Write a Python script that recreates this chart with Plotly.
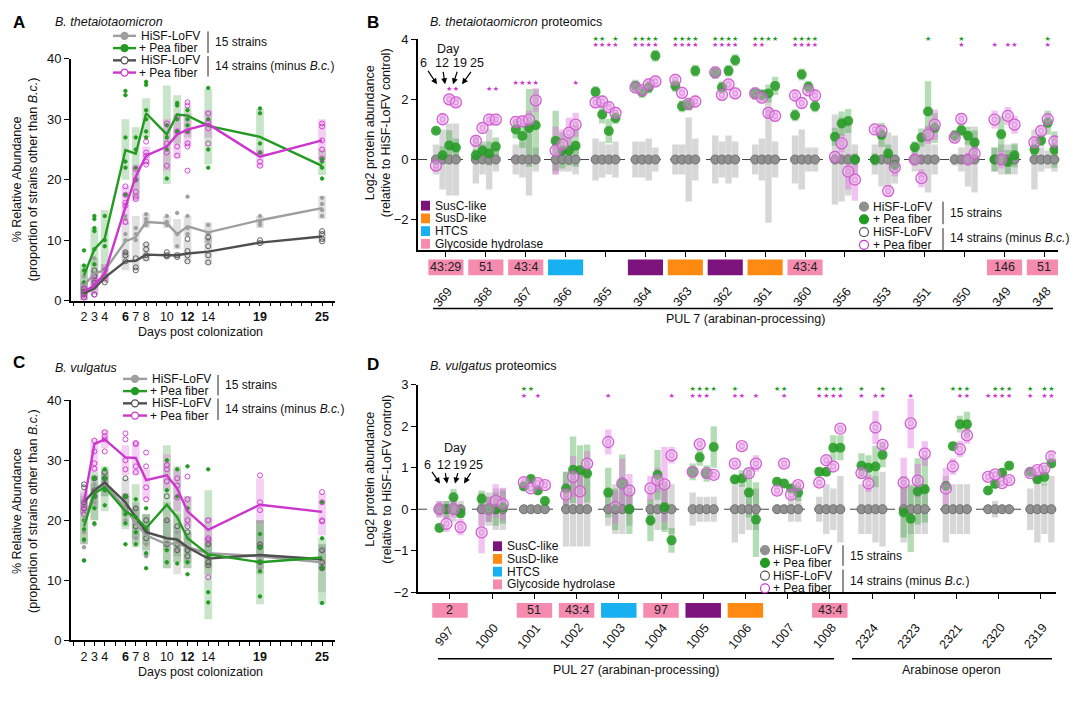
import plotly.graph_objects as go

W, H = 1080, 701
FONT = "Liberation Sans, Arial, Helvetica, sans-serif"
STAR_FONT = "DejaVu Sans"
LEG_SIZE = 11.5

# ---------------- Panels A and C: relative abundance over time ----------------
days = [2, 3, 4, 6, 7, 8, 10, 11, 12, 14, 19, 25]
day_tick_vals = list(range(1, 27))
day_labeled = [2, 3, 4, 6, 7, 8, 10, 12, 14, 19, 25]
day_labels = ["2", "3", "4", "<b>6</b>", "7", "8", "10", "<b>12</b>", "14", "<b>19</b>", "<b>25</b>"]

# Panel A (B. thetaiotaomicron)
A_hisf15_mean = [2.5, 4.5, 5.0, 9.8, 10.5, 13.0, 12.8, 11.0, 12.3, 11.3, 13.3, 15.3]
A_hisf15_lo = [0.5, 2, 3, 7, 7.5, 12, 12, 8.5, 10.5, 9.5, 12, 13.5]
A_hisf15_hi = [5, 7, 6, 13, 14, 14.5, 14, 13.5, 14, 13, 14, 17.3]
A_hisf15_pts = [[4, 3, 2, 1], [7, 4.5, 3], [5, 4], [14, 13.5, 11, 10, 8], [12, 11, 10], [14.3, 13.5, 13, 12.5],
                [14, 13, 12.5], [14.5, 11, 9], [17.2, 14, 12, 11], [12.5, 11, 10], [14, 13, 12.5], [17, 16, 15, 14]]

A_pea15_mean = [4.2, 8.5, 10.3, 24.9, 24.3, 31.0, 27.5, 30.8, 30.6, 28.9, 27.1, 22.3]
A_pea15_lo = [1, 4, 5, 20, 17, 27, 19.3, 26, 27, 22.5, 24, 20.8]
A_pea15_hi = [6, 12, 15, 30, 28.7, 33.5, 35.6, 34, 32, 35, 31.7, 25]
A_pea15_pts = [[8.3, 5.8, 5, 3, 1.5], [14, 13.5, 12, 11.5, 8.5, 6], [14, 10, 9, 5], [34.7, 34, 27, 23, 22, 17.5],
               [27, 25, 22, 20], [36.2, 35.7, 31.5, 30, 28, 27], [29, 27, 25, 20.2], [32.7, 32.3, 30, 28],
               [31.5, 30, 29, 28], [35.2, 30, 25, 22], [31.8, 31, 26, 24.5], [23.4, 23, 22, 20.2]]

A_hisf14_mean = [1.2, 2.0, 3.8, 6.5, 6.6, 7.6, 7.5, 7.5, 7.8, 8.1, 9.6, 10.6]
A_hisf14_lo = [0, 1, 3, 5, 5, 6.5, 7, 7, 6.3, 6, 9.2, 9.7]
A_hisf14_hi = [3, 5, 4.5, 8, 7.5, 9.5, 8, 8, 10, 10.5, 10, 11.5]
A_hisf14_pts = [[1, 1.5, 0.5, 2], [1, 3, 4, 5], [3, 4], [6.5, 7.5, 8], [5, 5.5, 7], [9.3, 8.5, 7.5, 7],
                [8, 7.5, 7.3], [7.5, 7.2], [10.2, 8.2, 7.5, 6.5], [10.5, 9, 7.5, 6.3], [10, 9.5], [11.5, 11, 10.2, 9.8]]

A_pea14_mean = [1.5, 2.5, 4.5, 15.5, 20.5, 24.0, 25.5, 27.5, 28.3, 29.2, 23.8, 26.5]
A_pea14_lo = [0, 1, 3, 12.5, 16.5, 22.5, 21.5, 23.5, 25.5, 27, 22, 23.5]
A_pea14_hi = [3, 4.5, 6, 19, 22.5, 25.5, 30, 30.5, 31, 31.5, 25, 30]
A_pea14_pts = [[1, 2, 0.5], [1, 2.5, 3.5], [4, 5], [18.9, 17.5, 16.2, 15.7, 13], [21.8, 20, 18, 17.2, 16.8],
               [26.3, 24.5, 24, 23, 22.5], [29.3, 26, 24.5, 22.3], [30.5, 28, 25.5, 24],
               [32.8, 32.3, 28, 26, 25.5, 21.5], [31, 29.5, 28.5, 26], [24.2, 23, 22.3], [29.3, 28.8, 26.5, 25, 23.5]]
A_sig_day25_value = 26.0

# Panel C (B. vulgatus)
C_hisf15_mean = [19.5, 25, 26, 22, 19.5, 17.5, 16, 16.2, 15.5, 14.5, 14, 13]
C_hisf15_lo = [16, 20, 24, 19, 16, 14, 12, 11, 12, 12, 11, 8]
C_hisf15_hi = [22, 26, 28, 24.5, 22, 21, 20, 19, 18, 17, 20, 16]
C_hisf15_pts = [[18, 16.5, 15.5, 13.3], [26, 23, 19.3], [27, 25], [24, 21, 20], [22, 18, 17], [18, 16, 14],
                [20, 16, 13], [18, 15], [17, 15, 13], [16, 14, 12.5], [16, 14, 12], [15, 13, 12]]

C_pea15_mean = [19, 24.5, 25.5, 21.5, 20.5, 18.7, 22.6, 20.5, 17, 14.3, 13, 13.8]
C_pea15_lo = [16, 20, 21.5, 18.5, 15.5, 15, 12, 13, 12, 3.5, 6, 6]
C_pea15_hi = [24, 28, 29, 24, 26, 21, 32.5, 29, 24, 25, 20, 17]
C_pea15_pts = [[20, 18.5, 16.8, 13.3], [27, 24, 22, 19.5], [28.5, 27, 25, 22.5], [24, 21, 19.5, 16],
               [23.5, 20.5, 18, 16], [22, 18.5, 14.5, 12], [30, 25, 15, 13], [28.5, 24, 12.8], [29, 22, 13, 11],
               [28.5, 14, 8, 6.3], [17.7, 15.5, 13, 11.5, 7.3], [23, 17, 12, 6.2]]

C_hisf14_mean = [23, 25, 26.3, 23, 20.5, 18, 17, 16.8, 15.5, 13.6, 14.2, 13.5]
C_hisf14_lo = [21, 22, 24, 21, 17, 16, 15, 14, 13, 11, 12, 12]
C_hisf14_hi = [25, 27.5, 28.5, 27, 23, 21, 23, 21, 18, 16, 20, 16]
C_hisf14_pts = [[26, 25.5, 23, 22], [27, 25, 24], [28, 27, 26], [27, 24, 22], [22, 20, 19], [20, 18, 17],
                [24, 20, 16], [19, 16, 15], [18, 15, 14], [16, 13, 12.5], [16, 15.5, 13], [15, 13, 12]]

C_pea14_mean = [23, 32.7, 33.5, 30.5, 30.4, 26.7, 27.5, 25.3, 21.5, 18.4, 22.6, 21.4]
C_pea14_lo = [21, 28, 32, 27.5, 27.5, 23.5, 25, 21.5, 19, 16, 19.5, 17.5]
C_pea14_hi = [24.5, 33.5, 35, 32.5, 33, 28.5, 31, 28.5, 24, 20.5, 27, 24.5]
C_pea14_pts = [[22.5, 22, 21], [33.3, 31.5, 29.5, 28.6], [34.7, 34, 33.5, 31.5], [34.5, 33.5, 30, 28.5],
               [32.9, 32.7, 29, 28], [31.3, 29, 25.5, 23.5], [29.2, 28.5, 26.5], [27, 25.8, 23.8],
               [27.3, 23.5, 20, 19], [20, 17, 16.7, 10.5], [27.5, 23, 21.7], [24.7, 23, 20, 19.8]]
C_sig_day25_value = 21.0

# ---------------- Panels B and D: proteomics (log2 vs HiSF-LoFV control) ----------------
prot_days = [6, 12, 19, 25]
CONTROL_LOG2 = 0.0  # control relative to itself

B_genes = ["369", "368", "367", "366", "365", "364", "363", "362", "361", "360", "356", "353", "351", "350", "349", "348"]
B_pea15 = [[0.96, 0.14, 0.47, 0.40], [0.14, 0.30, 0.20, 0.43], [1.00, 0.78, 1.05, 1.14], [0.62, 0.30, 0.30, 0.46],
           [2.25, 1.50, 0.95, 1.38], [2.45, 2.25, 2.40, 3.45], [2.45, 1.77, 1.82, 2.95], [2.88, 2.40, 2.95, 3.30],
           [2.20, 2.15, 2.20, 2.45], [1.47, 2.83, 2.42, 1.77], [0.76, 1.20, 1.28, 0.00], [0.00, 0.82, 0.20, -0.18],
           [0.41, 0.73, 1.60, 1.05], [0.79, 0.97, 0.79, 0.57], [0.00, 0.84, -0.08, 0.14], [0.33, 0.63, 1.22, 0.33]]
B_pea14 = [[-0.20, 1.34, 2.00, 1.90], [0.62, 1.05, 1.33, 1.33], [1.25, 1.27, 1.33, 1.97], [0.30, 0.50, 0.89, 1.16],
           [1.90, 1.93, 1.74, 1.55], [2.40, 2.30, 2.50, 2.60], [2.65, 2.22, 1.85, 1.93], [2.90, 2.15, 2.50, 2.20],
           [2.20, 2.06, 1.55, 1.45], [2.13, 1.88, 2.30, 2.13], [0.09, 0.54, -0.40, -0.67], [1.00, 0.95, -1.05, -0.26],
           [0.00, -0.62, 0.82, 1.16], [0.73, 1.35, 0.00, 0.20], [1.33, 0.00, 1.45, 1.16], [0.57, 0.95, 1.34, 0.60]]
B_err_ctrl = [[0.5, 1.0, 1.2, 1.2], [0.8, 0.5, 1.0, 0.4], [0.5, 0.6, 1.2, 0.4], [0.5, 0.4, 0.4, 0.5],
              [0.7, 0.6, 0.5, 0.6], [0.6, 0.6, 0.7, 0.4], [0.5, 0.5, 1.4, 0.7], [0.8, 0.6, 0.8, 0.6],
              [0.5, 0.7, 2.1, 0.6], [0.8, 1.0, 0.4, 0.4], [1.5, 1.4, 1.2, 0.5], [0.5, 0.9, 0.9, 0.8],
              [0.4, 0.6, 1.1, 0.5], [0.2, 0.4, 0.9, 1.1], [0.4, 0.5, 0.5, 0.5], [1.0, 0.4, 0.3, 0.4]]
B_err15 = [[0.1, 0.3, 0.5, 0.3], [0.2, 0.3, 0.4, 0.3], [0.3, 0.4, 1.3, 1.2], [1.0, 0.6, 0.5, 0.7],
           [0.2, 0.3, 0.4, 0.2], [0.2, 0.2, 0.2, 0.2], [0.2, 0.2, 0.2, 0.2], [0.2, 0.2, 0.2, 0.2],
           [0.2, 0.2, 0.3, 0.3], [0.2, 0.2, 0.2, 0.2], [0.3, 0.4, 0.4, 0.2], [0.2, 0.4, 0.3, 0.2],
           [0.2, 0.3, 1.0, 0.5], [0.2, 0.2, 0.3, 0.4], [0.4, 0.6, 0.4, 0.4], [0.2, 0.2, 0.4, 0.6]]
B_err14 = [[0.2, 0.2, 0.2, 0.2], [0.2, 0.2, 0.2, 0.2], [0.2, 0.2, 0.3, 0.4], [0.8, 0.5, 0.5, 0.4],
           [0.2, 0.2, 0.2, 0.2], [0.2, 0.2, 0.2, 0.2], [0.2, 0.2, 0.2, 0.2], [0.2, 0.2, 0.2, 0.2],
           [0.2, 0.2, 0.2, 0.2], [0.2, 0.2, 0.2, 0.2], [0.2, 0.3, 0.6, 0.7], [0.2, 0.2, 0.2, 0.3],
           [0.2, 0.3, 0.3, 0.5], [0.2, 0.2, 0.2, 0.3], [0.3, 0.3, 0.3, 0.3], [0.2, 0.2, 0.2, 0.2]]
B_sig15 = ["0000", "0000", "0000", "0000", "1101", "1111", "1111", "1111", "1111", "1111", "0000", "0000", "0010", "0100", "0000", "0010"]
B_sig14 = ["0011", "0011", "1111", "0001", "1111", "1111", "1111", "1111", "1100", "1111", "0000", "0000", "0000", "0100", "1011", "0010"]
B_family = ["GH", "GH", "GH", "HTCS", "", "SusC", "SusD", "SusC", "SusD", "GH", "", "", "", "", "GH", "GH"]
B_family_text = ["43:29", "51", "43:4", "", "", "", "", "", "", "43:4", "", "", "", "", "146", "51"]

D_genes = ["997", "1000", "1001", "1002", "1003", "1004", "1005", "1006", "1007", "1008", "2324", "2323", "2321", "2320", "2319"]
D_pea15 = [[-0.45, 0.0, 0.29, -0.10], [0.25, 0.0, 0.0, 0.05], [0.55, 0.73, 0.45, 0.20], [0.50, 0.95, 0.94, 0.86],
           [0.40, 0.0, 0.62, 0.0], [-0.27, 0.83, 0.05, -0.75], [0.90, 1.25, 0.86, 1.50], [0.72, 0.74, 0.40, -0.25],
           [0.66, 0.62, 0.50, 0.40], [0.90, 0.90, 1.48, 1.48], [1.05, 1.00, 1.03, 1.31], [-0.08, -0.23, 0.43, 0.48],
           [0.56, 1.52, 2.05, 2.05], [0.45, 0.61, 0.88, 1.05], [0.90, 0.72, 0.78, 1.10]]
D_pea14 = [[0.0, -0.35, 0.0, -0.43], [-0.56, 0.0, 0.20, 0.12], [0.65, 0.50, 0.63, 0.58], [0.35, 0.78, 0.43, 1.10],
           [1.62, 0.05, 0.62, 0.45], [0.50, 0.70, 0.60, 1.30], [0.90, 1.57, 0.87, 0.83], [1.10, 1.52, 0.87, 1.10],
           [0.45, 1.10, 0.35, 0.58], [0.64, 1.18, 1.03, 1.94], [0.87, 0.62, 1.97, 1.55], [0.64, 2.07, 0.69, 1.34],
           [0.50, 1.03, 1.45, 1.78], [0.78, 0.84, 0.63, 0.70], [0.87, 0.94, 0.98, 1.27]]
D_err_ctrl = [[0.2, 0.2, 0.3, 0.2], [0.4, 0.4, 0.5, 0.5], [0.1, 0.1, 0.1, 0.1], [0.9, 0.9, 0.9, 0.9],
              [0.4, 0.6, 0.6, 0.4], [0.4, 0.5, 0.5, 0.6], [0.4, 0.3, 0.3, 0.3], [0.8, 0.6, 0.5, 0.5],
              [0.1, 0.1, 0.3, 0.3], [0.3, 0.6, 0.5, 0.8], [0.6, 0.6, 0.8, 0.9], [0.8, 0.6, 0.6, 0.6],
              [0.8, 0.6, 0.6, 0.6], [0.1, 0.2, 0.1, 0.1], [0.5, 0.8, 0.6, 0.8]]
D_err15 = [[0.1, 0.2, 0.2, 0.1], [0.2, 0.3, 0.4, 0.4], [0.1, 0.1, 0.1, 0.1], [0.4, 0.8, 0.6, 0.7],
           [0.6, 0.5, 0.7, 0.6], [0.5, 0.6, 0.6, 0.3], [0.2, 0.2, 0.2, 0.5], [0.1, 0.2, 0.6, 0.9],
           [0.1, 0.1, 0.1, 0.2], [0.1, 0.1, 0.3, 0.3], [0.3, 0.3, 0.5, 0.3], [0.6, 0.8, 0.8, 0.8],
           [0.1, 0.1, 0.2, 0.3], [0.1, 0.1, 0.1, 0.1], [0.1, 0.1, 0.2, 0.1]]
D_err14 = [[0.2, 0.2, 0.2, 0.2], [0.5, 0.3, 0.4, 0.4], [0.1, 0.1, 0.1, 0.1], [0.3, 0.5, 0.4, 0.3],
           [0.3, 0.4, 0.6, 0.4], [0.3, 0.3, 0.9, 0.2], [0.1, 0.1, 0.1, 0.1], [0.1, 0.1, 0.1, 0.2],
           [0.1, 0.1, 0.1, 0.1], [0.1, 0.1, 0.1, 0.1], [0.1, 0.2, 0.4, 0.1], [0.6, 0.6, 0.4, 0.3],
           [0.5, 0.2, 0.2, 0.2], [0.1, 0.1, 0.1, 0.1], [0.1, 0.1, 0.1, 0.1]]
D_sig15 = ["0000", "0000", "1100", "0000", "0000", "0000", "1111", "1000", "1100", "1111", "1001", "0000", "0111", "0111", "1011"]
D_sig14 = ["0000", "0000", "1010", "0000", "1000", "0001", "1110", "1101", "0100", "1111", "1011", "0100", "0011", "1111", "1011"]
D_family = ["GH", "", "GH", "GH", "HTCS", "GH", "SusC", "SusD", "", "GH", "", "", "", "", ""]
D_family_text = ["2", "", "51", "43:4", "", "97", "", "", "", "43:4", "", "", "", "", ""]

# ---------------- styling ----------------
GREEN = "#239b23"
MAGENTA = "#cc36cc"
LGRAY = "#9e9e9e"
DGRAY = "#4f4f4f"
FAMILY_COLORS = {"SusC": "#7d137d", "SusD": "#ff8a12", "HTCS": "#17b1f2", "GH": "#f58cb0"}
DAY_OFFSETS = [-0.25, -0.083, 0.083, 0.25]


def X(p):
    return p / W


def Y(p):
    return 1 - p / H


fig = go.Figure()
shapes = []
annotations = []


def txt(x, y, s, size=12.5, xanchor="left", color="#111", angle=0, family=FONT):
    annotations.append(dict(x=X(x), y=Y(y), xref="paper", yref="paper", text=s, showarrow=False,
                            xanchor=xanchor, yanchor="middle", textangle=angle,
                            font=dict(family=family, size=size, color=color)))


def pline(x0, y0, x1, y1, color="#000", w=1.5, dash="solid"):
    shapes.append(dict(type="line", xref="paper", yref="paper", x0=X(x0), x1=X(x1), y0=Y(y0), y1=Y(y1),
                       line=dict(color=color, width=w, dash=dash)))


def circ(xc, yc, r, fill, line, lw=1.2):
    shapes.append(dict(type="circle", xref="paper", yref="paper", xsizemode="pixel", ysizemode="pixel",
                       xanchor=X(xc), yanchor=Y(yc), x0=-r, x1=r, y0=-r, y1=r,
                       fillcolor=fill, line=dict(color=line, width=lw)))


def prect(x0, y0, x1, y1, color):
    shapes.append(dict(type="rect", xref="paper", yref="paper", x0=X(x0), x1=X(x1), y0=Y(y1), y1=Y(y0),
                       fillcolor=color, line=dict(width=0)))


# ---------- time-course panels ----------
def time_panel(xa, ya, series):
    for mean, lo, hi, pts, line_col, band_col, sym, psize in series:
        fig.add_trace(go.Bar(x=days, y=[h - l for l, h in zip(lo, hi)], base=lo, width=0.75,
                             marker=dict(color=band_col, line=dict(width=0)),
                             xaxis=xa, yaxis=ya, showlegend=False, hoverinfo="skip"))
    for mean, lo, hi, pts, line_col, band_col, sym, psize in series:
        xs = [d for d, p in zip(days, pts) for _ in p]
        ys = [v for p in pts for v in p]
        fig.add_trace(go.Scatter(x=xs, y=ys, mode="markers",
                                 marker=dict(symbol=sym, size=psize, color=line_col, line=dict(width=0.9, color=line_col)),
                                 xaxis=xa, yaxis=ya, showlegend=False, hoverinfo="skip"))
    for mean, lo, hi, pts, line_col, band_col, sym, psize in series:
        fig.add_trace(go.Scatter(x=days, y=mean, mode="lines", line=dict(color=line_col, width=2.4),
                                 xaxis=xa, yaxis=ya, showlegend=False, hoverinfo="skip"))


time_panel("x", "y", [
    (A_hisf15_mean, A_hisf15_lo, A_hisf15_hi, A_hisf15_pts, LGRAY, "rgba(170,170,170,0.35)", "circle", 3.5),
    (A_hisf14_mean, A_hisf14_lo, A_hisf14_hi, A_hisf14_pts, DGRAY, "rgba(120,120,120,0.25)", "circle-open", 5),
    (A_pea15_mean, A_pea15_lo, A_pea15_hi, A_pea15_pts, GREEN, "rgba(60,160,60,0.28)", "circle", 3.5),
    (A_pea14_mean, A_pea14_lo, A_pea14_hi, A_pea14_pts, MAGENTA, "rgba(220,100,220,0.3)", "circle-open", 5),
])
time_panel("x3", "y3", [
    (C_hisf15_mean, C_hisf15_lo, C_hisf15_hi, C_hisf15_pts, LGRAY, "rgba(170,170,170,0.35)", "circle", 3.5),
    (C_hisf14_mean, C_hisf14_lo, C_hisf14_hi, C_hisf14_pts, DGRAY, "rgba(120,120,120,0.25)", "circle-open", 5),
    (C_pea15_mean, C_pea15_lo, C_pea15_hi, C_pea15_pts, GREEN, "rgba(60,160,60,0.28)", "circle", 3.5),
    (C_pea14_mean, C_pea14_lo, C_pea14_hi, C_pea14_pts, MAGENTA, "rgba(220,100,220,0.3)", "circle-open", 5),
])

for xr, yr, val in [("x", "y", A_sig_day25_value), ("x3", "y3", C_sig_day25_value)]:
    annotations.append(dict(x=26.75, y=val, xref=xr, yref=yr, text="★", showarrow=False,
                            xanchor="center", yanchor="middle",
                            font=dict(family=STAR_FONT, size=7, color=MAGENTA)))


# ---------- proteomics panels ----------
def prot_panel(xa, ya, genes, pea15, pea14, err_ctrl, err15, err14, sig15, sig14,
               star15_y, star14_y, bar_w):
    n = len(genes)
    xs = [i + o for i in range(n) for o in DAY_OFFSETS]
    v15 = [v for g in pea15 for v in g]
    v14 = [v for g in pea14 for v in g]
    ec = [v for g in err_ctrl for v in g]
    e15 = [v for g in err15 for v in g]
    e14 = [v for g in err14 for v in g]
    ctrl = [CONTROL_LOG2 for _ in xs]
    fig.add_trace(go.Bar(x=xs, y=[2 * e for e in ec], base=[c - e for c, e in zip(ctrl, ec)], width=bar_w,
                         marker=dict(color="rgba(150,150,150,0.38)", line=dict(width=0)),
                         xaxis=xa, yaxis=ya, showlegend=False, hoverinfo="skip"))
    fig.add_trace(go.Bar(x=xs, y=[2 * e for e in e15], base=[v - e for v, e in zip(v15, e15)], width=bar_w,
                         marker=dict(color="rgba(60,165,60,0.38)", line=dict(width=0)),
                         xaxis=xa, yaxis=ya, showlegend=False, hoverinfo="skip"))
    fig.add_trace(go.Bar(x=xs, y=[2 * e for e in e14], base=[v - e for v, e in zip(v14, e14)], width=bar_w,
                         marker=dict(color="rgba(225,110,225,0.42)", line=dict(width=0)),
                         xaxis=xa, yaxis=ya, showlegend=False, hoverinfo="skip"))
    fig.add_trace(go.Scatter(x=xs, y=ctrl, mode="markers",
                             marker=dict(size=9, color="#909090", line=dict(width=1, color="#707070")),
                             xaxis=xa, yaxis=ya, showlegend=False, hoverinfo="skip", cliponaxis=False))
    fig.add_trace(go.Scatter(x=xs, y=v15, mode="markers",
                             marker=dict(size=10, color=GREEN, opacity=0.85, line=dict(width=0)),
                             xaxis=xa, yaxis=ya, showlegend=False, hoverinfo="skip"))
    fig.add_trace(go.Scatter(x=xs, y=v14, mode="markers",
                             marker=dict(size=11, color="rgba(238,180,238,0.35)", line=dict(width=1.3, color="#d060d0")),
                             xaxis=xa, yaxis=ya, showlegend=False, hoverinfo="skip"))
    fig.add_trace(go.Scatter(x=xs, y=v14, mode="markers",
                             marker=dict(size=5, symbol="circle-open", color="#d983d9", line=dict(width=0.8)),
                             xaxis=xa, yaxis=ya, showlegend=False, hoverinfo="skip"))
    sx15, sy15, sx14, sy14 = [], [], [], []
    for i in range(n):
        for k, o in enumerate(DAY_OFFSETS):
            if sig15[i][k] == "1":
                sx15.append(i + o)
                sy15.append(star15_y[i])
            if sig14[i][k] == "1":
                sx14.append(i + o)
                sy14.append(star14_y[i])
    fig.add_trace(go.Scatter(x=sx15, y=sy15, mode="text", text=["★"] * len(sx15),
                             textfont=dict(family=STAR_FONT, size=7, color=GREEN), cliponaxis=False,
                             xaxis=xa, yaxis=ya, showlegend=False, hoverinfo="skip"))
    fig.add_trace(go.Scatter(x=sx14, y=sy14, mode="text", text=["★"] * len(sx14),
                             textfont=dict(family=STAR_FONT, size=7, color=MAGENTA), cliponaxis=False,
                             xaxis=xa, yaxis=ya, showlegend=False, hoverinfo="skip"))


B_star15_y = [4.0] * len(B_genes)
B_star14_y = [2.35, 2.35, 2.55, 2.55] + [3.8] * (len(B_genes) - 4)
D_star15_y = [2.9] * len(D_genes)
D_star14_y = [2.73] * len(D_genes)

prot_panel("x2", "y2", B_genes, B_pea15, B_pea14, B_err_ctrl, B_err15, B_err14, B_sig15, B_sig14,
           B_star15_y, B_star14_y, 0.16)
prot_panel("x4", "y4", D_genes, D_pea15, D_pea14, D_err_ctrl, D_err15, D_err14, D_sig15, D_sig14,
           D_star15_y, D_star14_y, 0.15)

for xr, yr in [("x2", "y2"), ("x4", "y4")]:
    shapes.append(dict(type="line", xref=xr + " domain", yref=yr, x0=0, x1=1, y0=0, y1=0, layer="below",
                       line=dict(color="#444", width=1, dash="dash")))


def gene_row(xr, genes, fams, ftexts, box_y0, box_y1, half_w, label_y, xshift):
    for i, g in enumerate(genes):
        if fams[i]:
            shapes.append(dict(type="rect", xref=xr, yref="paper", x0=i - half_w, x1=i + half_w,
                               y0=Y(box_y1), y1=Y(box_y0), fillcolor=FAMILY_COLORS[fams[i]], line=dict(width=0)))
            if ftexts[i]:
                annotations.append(dict(x=i, y=Y((box_y0 + box_y1) / 2), xref=xr, yref="paper", text=ftexts[i],
                                        showarrow=False, xanchor="center", yanchor="middle",
                                        font=dict(family=FONT, size=12.5, color="#222")))
        annotations.append(dict(x=i, y=Y(label_y), xref=xr, yref="paper", text=g, showarrow=False,
                                xanchor="center", yanchor="middle",
                                textangle=-50, xshift=xshift, font=dict(family=FONT, size=12.5, color="#111")))


gene_row("x2", B_genes, B_family, B_family_text, 258, 274, 0.44, 296, -3)
gene_row("x4", D_genes, D_family, D_family_text, 609, 624, 0.42, 643, -5)

pline(433, 308, 1053, 308, w=1.5)
txt(745, 319, "PUL 7 (arabinan-processing)", xanchor="center")
pline(438, 666, 834, 666, w=1.5)
txt(636, 677, "PUL 27 (arabinan-processing)", xanchor="center")
pline(852, 666, 1052, 666, w=1.5)
txt(951, 677, "Arabinose operon", xanchor="center")

# ---------- titles / letters / axis titles ----------
txt(11, 16, "<b>A</b>", size=17, color="#000")
txt(53, 15, "<i>B. thetaiotaomicron</i>")
txt(365, 16, "<b>B</b>", size=17, color="#000")
txt(428, 15, "<i>B. thetaiotaomicron</i> proteomics")
txt(11, 363, "<b>C</b>", size=17, color="#000")
txt(53, 369, "<i>B. vulgatus</i>")
txt(365, 365, "<b>D</b>", size=17, color="#000")
txt(428, 367, "<i>B. vulgatus</i> proteomics")

txt(25, 176, "% Relative Abundance<br>(proportion of strains other than <i>B.c.</i>)", xanchor="center", angle=-90)
txt(25, 515, "% Relative Abundance<br>(proportion of strains other than <i>B.c.</i>)", xanchor="center", angle=-90)
txt(378, 129, "Log2 protein abundance<br>(relative to HiSF-LoFV control)", xanchor="center", angle=-90)
txt(378, 483, "Log2 protein abundance<br>(relative to HiSF-LoFV control)", xanchor="center", angle=-90)
txt(200, 332, "Days post colonization", xanchor="center")
txt(200, 680, "Days post colonization", xanchor="center")


# ---------- legends ----------
def ts_legend(lx0, lx1, tx, rows, brx, b1, b2, t1y, t2y):
    styles = [(LGRAY, LGRAY), (GREEN, GREEN), ("white", DGRAY), ("white", MAGENTA)]
    labels = ["HiSF-LoFV", "+ Pea fiber", "HiSF-LoFV", "+ Pea fiber"]
    for yy, (fill, col), lab in zip(rows, styles, labels):
        pline(lx0, yy, lx1, yy, color=col, w=2.4)
        circ((lx0 + lx1) / 2, yy, 3.5, fill, col, 1.3)
        txt(tx - (2 if lab.startswith("+") else 0), yy, lab, size=LEG_SIZE + 0.5)
    pline(brx, b1[0], brx, b1[1], color="#222", w=1)
    pline(brx, b2[0], brx, b2[1], color="#222", w=1)
    txt(brx + 5, t1y, "15 strains", size=LEG_SIZE + 0.5)
    txt(brx + 5, t2y, "14 strains (minus <i>B.c.</i>)", size=LEG_SIZE + 0.5)


ts_legend(113, 136, 139, [29.5, 42, 54.5, 67], 208, (25, 47), (50, 71), 36, 60)
ts_legend(123, 147, 150, [380, 392.5, 405, 417.5], 218, (376, 397), (400, 422), 386, 411)


def prot_legend(mx, tx, rows, brx, b1, b2, t1y, t2y):
    styles = [("#909090", "#909090"), (GREEN, GREEN), ("white", "#555"), ("white", MAGENTA)]
    labels = ["HiSF-LoFV", "+ Pea fiber", "HiSF-LoFV", "+ Pea fiber"]
    for yy, (fill, col), lab in zip(rows, styles, labels):
        circ(mx, yy, 4.5, fill, col, 1.2)
        txt(tx, yy, lab, size=LEG_SIZE + 0.5)
    pline(brx, b1[0], brx, b1[1], color="#222", w=1)
    pline(brx, b2[0], brx, b2[1], color="#222", w=1)
    txt(brx + 5, t1y, "15 strains", size=LEG_SIZE + 0.5)
    txt(brx + 5, t2y, "14 strains (minus <i>B.c.</i>)", size=LEG_SIZE + 0.5)


prot_legend(864, 871, [204, 217, 230, 243], 943, (199, 222), (226, 249), 211, 236)
prot_legend(765, 771, [555, 568, 581, 594], 843, (550, 571), (575, 598), 561, 587)


def family_legend(sx, tx, rows):
    for yy, key, lab in zip(rows, ["SusC", "SusD", "HTCS", "GH"],
                            ["SusC-like", "SusD-like", "HTCS", "Glycoside hydrolase"]):
        prect(sx, yy - 5, sx + 9, yy + 5, FAMILY_COLORS[key])
        txt(tx, yy, lab, size=LEG_SIZE + 0.5)


family_legend(421, 433, [203, 216, 229, 242])
family_legend(493, 505, [551, 564, 577, 590])


def day_arrows(day_xy, nums, heads):
    txt(day_xy[0], day_xy[1], "Day", xanchor="center")
    for (nx, ny), (hx, hy), lab in zip(nums, heads, [str(d) for d in prot_days]):
        annotations.append(dict(x=X(hx), y=Y(hy), xref="paper", yref="paper", text=lab, showarrow=True,
                                ax=nx - hx, ay=ny - hy, arrowhead=2, arrowsize=1, arrowwidth=1.2,
                                arrowcolor="#000", font=dict(family=FONT, size=12.5, color="#111")))


day_arrows((448, 43), [(423, 58), (442, 58), (460, 58), (477, 58)], [(437, 79), (445, 79), (453, 79), (462, 79)])
day_arrows((455, 451), [(427, 468), (444, 468), (460, 468), (476, 468)], [(440, 487), (447, 487), (455, 487), (464, 487)])

# ---------- axes ----------
axis_common = dict(showgrid=False, zeroline=False, showline=True, linecolor="#000", linewidth=1.8,
                   ticks="outside", ticklen=5, tickwidth=1.4, tickcolor="#000",
                   tickfont=dict(family=FONT, size=13, color="#111"))
day_axis = dict(axis_common, ticklen=4, tickfont=dict(family=FONT, size=12.5, color="#111"))
day_ticktext = [day_labels[day_labeled.index(d)] if d in day_labeled else "" for d in day_tick_vals]

fig.update_layout(
    width=W, height=H, margin=dict(l=0, r=0, t=0, b=0),
    paper_bgcolor="white", plot_bgcolor="white", barmode="overlay", showlegend=False,
    font=dict(family=FONT, size=12.5, color="#111"),
    xaxis=dict(domain=[X(71), X(335)], range=[0.74, 26.25], tickvals=day_tick_vals, ticktext=day_ticktext,
               anchor="y", **day_axis),
    yaxis=dict(domain=[Y(300), Y(53)], range=[0, 40], tickvals=[0, 10, 20, 30, 40], anchor="x", **axis_common),
    xaxis2=dict(domain=[X(418), X(1058)], range=[-0.70, 15.34], tickvals=list(range(len(B_genes))),
                showticklabels=False, anchor="y2", **axis_common),
    yaxis2=dict(domain=[Y(248), Y(33)], range=[-3, 4], tickvals=[-2, 0, 2, 4], anchor="x2", **axis_common),
    xaxis3=dict(domain=[X(71), X(335)], range=[0.74, 26.25], tickvals=day_tick_vals, ticktext=day_ticktext,
                anchor="y3", **day_axis),
    yaxis3=dict(domain=[Y(647), Y(402)], range=[0, 40], tickvals=[0, 10, 20, 30, 40], anchor="x3", **axis_common),
    xaxis4=dict(domain=[X(418), X(1056)], range=[-0.758, 14.36], tickvals=list(range(len(D_genes))),
                showticklabels=False, anchor="y4", **axis_common),
    yaxis4=dict(domain=[Y(598), Y(386)], range=[-2, 3], tickvals=[-2, -1, 0, 1, 2, 3], anchor="x4", **axis_common),
    shapes=shapes, annotations=annotations,
)

fig.write_html("out.html")
